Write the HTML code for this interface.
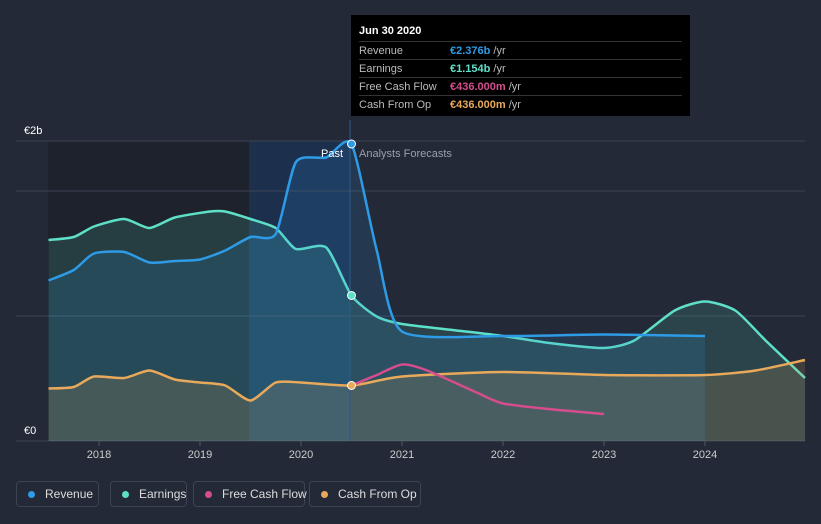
<!DOCTYPE html>
<html><head><meta charset="utf-8"><style>
body{margin:0;background:#232937;font-family:"Liberation Sans",sans-serif;width:821px;height:524px;overflow:hidden;position:relative}
.tt{position:absolute;left:351px;top:15px;width:339px;height:101px;background:#000;color:#fff;font-size:11px}
.tt .h{font-weight:bold;padding:10px 8px 4px}
.tt .r{display:flex;border-top:1px solid #333;margin:0 8px;height:17px;align-items:center;color:#bbb}
.tt .r span:first-child{width:91px}
.lg{position:absolute;top:481px;height:26px;border:1px solid #3c4352;border-radius:4px;color:#ddd;font-size:12px;display:flex;align-items:center;padding:0 0 0 11px;box-sizing:border-box;white-space:nowrap}
.lg i{width:7px;height:7px;flex:0 0 7px;border-radius:50%;display:inline-block;margin-right:10px}
</style></head><body>
<svg id="c" width="821" height="524" style="position:absolute;left:0;top:0"></svg>
<div class="tt">
<div class="h">Jun 30 2020</div>
<div class="r"><span>Revenue</span><span><b style="color:#2e9be6">€2.376b</b> /yr</span></div>
<div class="r"><span>Earnings</span><span><b style="color:#5ee0c8">€1.154b</b> /yr</span></div>
<div class="r"><span>Free Cash Flow</span><span><b style="color:#d64d8e">€436.000m</b> /yr</span></div>
<div class="r"><span>Cash From Op</span><span><b style="color:#e8a95b">€436.000m</b> /yr</span></div>
</div>
<div class="lg" style="left:16px;width:83px"><i style="background:#2e9be6"></i>Revenue</div>
<div class="lg" style="left:110px;width:77px"><i style="background:#5ee0c8"></i>Earnings</div>
<div class="lg" style="left:193px;width:112px"><i style="background:#d64d8e"></i>Free Cash Flow</div>
<div class="lg" style="left:309px;width:112px"><i style="background:#e8a95b"></i>Cash From Op</div>
<script>
const revX=[2017.5,2017.75,2017.95,2018.25,2018.5,2018.75,2019.0,2019.25,2019.5,2019.75,2019.95,2020.25,2020.5,2020.75,2021.0,2022,2023,2024];
const revV=[1.07,1.14,1.25,1.26,1.19,1.2,1.21,1.27,1.36,1.38,1.86,1.89,1.98,1.27,0.73,0.7,0.71,0.7];
const earnX=[2017.5,2017.75,2017.95,2018.25,2018.5,2018.75,2019.1,2019.25,2019.5,2019.75,2019.95,2020.25,2020.5,2020.75,2021.0,2021.5,2022,2022.5,2023,2023.3,2023.7,2024,2024.3,2024.6,2025.0];
const earnV=[1.34,1.36,1.43,1.48,1.42,1.49,1.53,1.53,1.48,1.42,1.28,1.29,0.97,0.83,0.78,0.74,0.7,0.65,0.62,0.67,0.87,0.93,0.87,0.67,0.42];
const cfoX=[2017.5,2017.75,2017.95,2018.25,2018.5,2018.75,2019.0,2019.25,2019.5,2019.75,2020.0,2020.5,2021,2022,2023,2024,2024.5,2025.0];
const cfoV=[0.35,0.36,0.43,0.42,0.47,0.41,0.39,0.37,0.27,0.39,0.39,0.37,0.43,0.46,0.44,0.44,0.47,0.54];
const fcfX=[2020.5,2020.75,2021,2021.25,2021.75,2022,2022.5,2023];
const fcfV=[0.37,0.44,0.51,0.47,0.32,0.25,0.21,0.18];
const yTicks=[0,0.833,1.667,2];const xTicks=[2018,2019,2020,2021,2022,2023,2024];
const X=t=>99+(t-2018)*101, Y=v=>441-v*150;
const s=document.getElementById('c');const NS='http://www.w3.org/2000/svg';
function el(tag,a){const e=document.createElementNS(NS,tag);for(const k in a)e.setAttribute(k,a[k]);s.appendChild(e);return e;}
function smooth(p){let d='M'+p[0][0]+','+p[0][1];for(let i=0;i<p.length-1;i++){const p0=p[i-1]||p[i],p1=p[i],p2=p[i+1],p3=p[i+2]||p2;const k=1/9;
d+=' C'+(p1[0]+(p2[0]-p0[0])*k)+','+(p1[1]+(p2[1]-p0[1])*k)+' '+(p2[0]-(p3[0]-p1[0])*k)+','+(p2[1]-(p3[1]-p1[1])*k)+' '+p2[0]+','+p2[1];}return d;}
let e;
e=el('rect',{x:48,y:141,width:302,height:300,fill:'#1e222c'});


e=el('rect',{x:249,y:141,width:101,height:300,fill:'#1b3556',opacity:0.8});


yTicks.forEach(v=>{e=el('line',{x1:16,x2:805,y1:Y(v),y2:Y(v),stroke:'#3b4252'});

});
[['€2b',2],['€0',0]].forEach(([t,v])=>{e=el('text',{x:24,y:Y(v)-7,fill:'#fff','font-size':11});e.textContent=t;

});
xTicks.forEach(t=>{e=el('line',{x1:X(t),x2:X(t),y1:441,y2:446,stroke:'#555'});
e=el('text',{x:X(t),y:458,fill:'#ccc','font-size':11,'text-anchor':'middle'});e.textContent=t;

});
function series(xs,vs,c,name,op){
 const p=xs.map((t,i)=>[Math.min(805,X(t)),Y(vs[i])]);const d=smooth(p);
 if(op>0){e=el('path',{d:d+' L'+p[p.length-1][0]+',441 L'+p[0][0]+',441 Z',fill:c,opacity:op});
 
 }
 e=el('path',{d:d,fill:'none',stroke:c,'stroke-width':2.5,'stroke-linejoin':'round'});
 
 }
series(earnX,earnV,'#5ee0c8','earnings',0.14);
series(revX,revV,'#2e9be6','revenue',0.15);
series(cfoX,cfoV,'#e8a95b','cash-from-op',0.16);
series(fcfX,fcfV,'#d64d8e','free-cash-flow',0);
e=el('line',{x1:350,x2:350,y1:120,y2:441,stroke:'#2e5a8a'});
[[revX,revV,'#2e9be6'],[earnX,earnV,'#5ee0c8'],[cfoX,cfoV,'#e8a95b']].forEach(([xs,vs,c])=>{const i=xs.indexOf(2020.5);
e=el('circle',{cx:X(2020.5),cy:Y(vs[i]),r:4,fill:c,stroke:'#fff','stroke-width':1});

});
e=el('text',{x:343,y:157,fill:'#fff','font-size':11,'text-anchor':'end'});e.textContent='Past';
e=el('text',{x:359,y:157,fill:'#9aa0aa','font-size':11});e.textContent='Analysts Forecasts';
</script></body></html>
